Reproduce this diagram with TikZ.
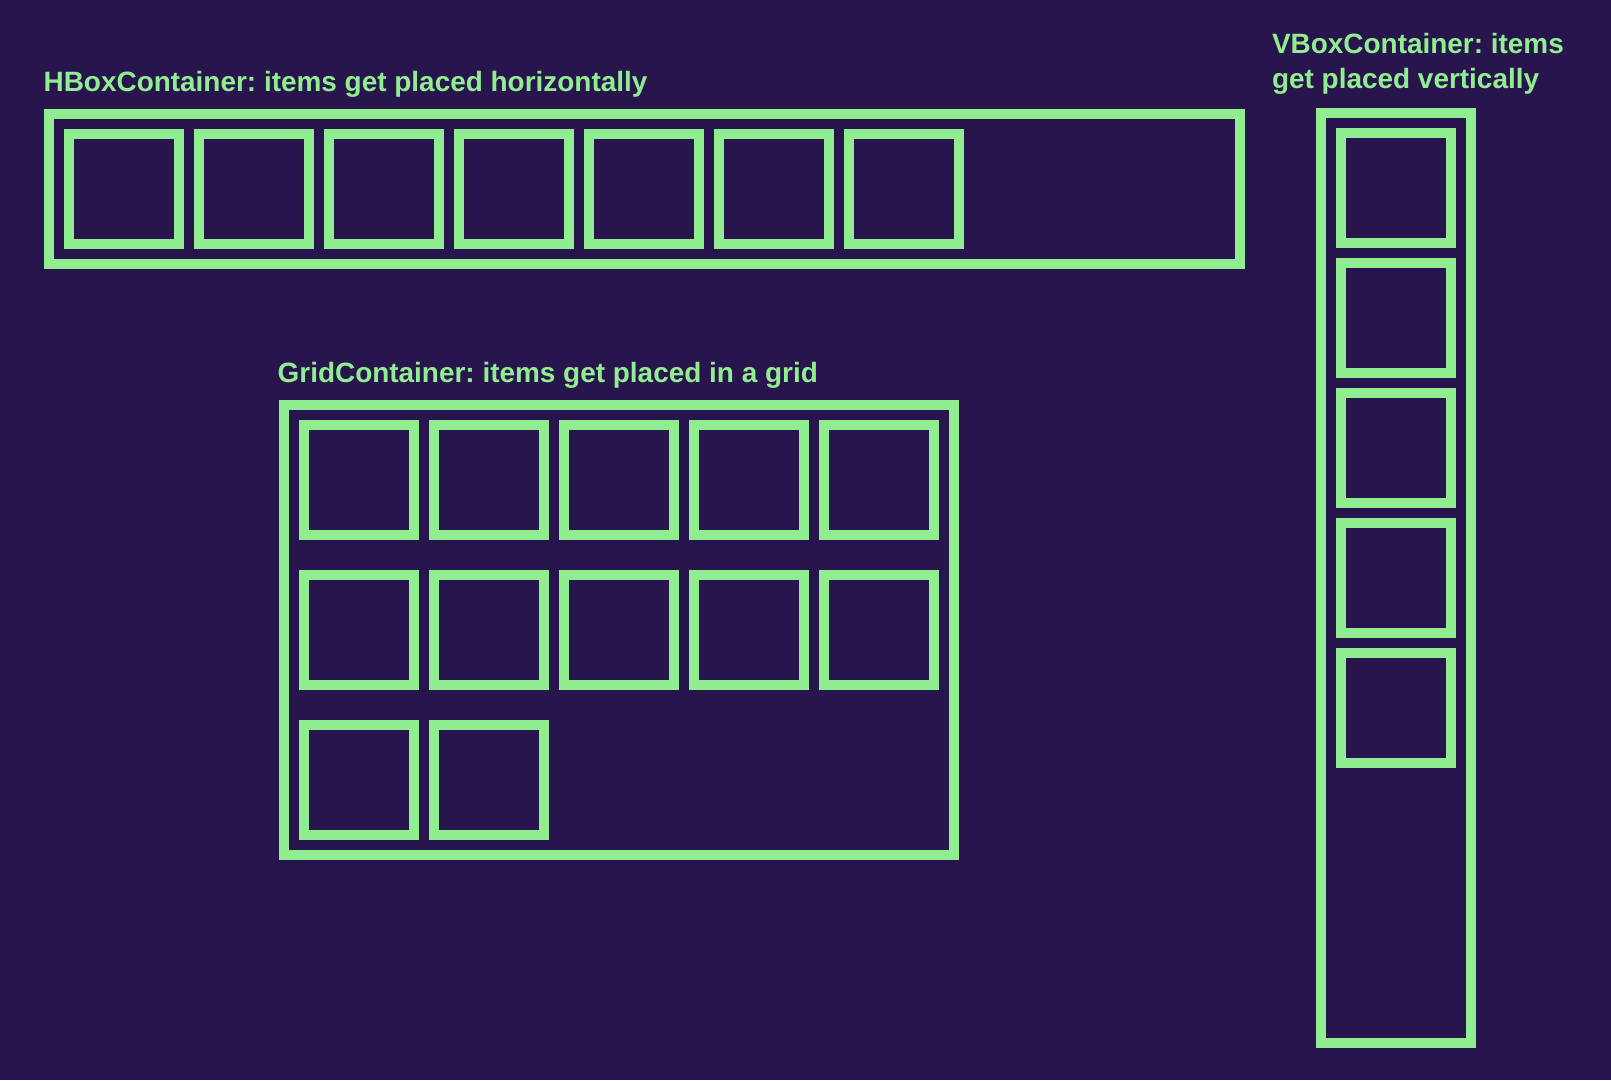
\documentclass[tikz,border=0pt]{standalone}
\usepackage{fontspec}
\setmainfont{Liberation Sans}
\usepackage{tikz}
\usetikzlibrary{positioning}
\definecolor{PanelBg}{RGB}{40,21,77}
\definecolor{ItemGreen}{RGB}{144,238,144}
\frenchspacing

\begin{document}
\begin{tikzpicture}[
    x=0.02cm,y=-0.02cm,
    item/.style={draw=ItemGreen, line width=0.2cm, minimum width=2.2cm, minimum height=2.2cm, inner sep=0pt, outer sep=0pt},
    container/.style={draw=ItemGreen, line width=0.2cm, inner sep=0pt, outer sep=0pt},
    title/.style={text=ItemGreen, font=\fontsize{15.9}{19.9}\selectfont\bfseries, anchor=base west, inner sep=0pt, align=left}
  ]
    \useasboundingbox (0,0) rectangle (1611,1080);
    \fill[PanelBg] (0,0) rectangle (1611,1080);
    % HBox
    \node[container, minimum width=23.81cm, minimum height=3cm] (hbox) at (644.5,189.3) {};
    \node[title] (hboxtitle) at (43.3,91.7) {HBoxContainer: items get placed horizontally};
    \foreach \i in {0,...,6} {\node[item] (h\i) at (124.3+130*\i,189.3) {};}
    % VBox
    \node[container, minimum width=3cm, minimum height=18.59cm] (vbox) at (1396,578) {};
    \node[title] (vboxtitle) at (1271.7,88.3) {VBoxContainer: items\\get placed vertically};
    \foreach \j in {0,...,4} {\node[item] (v\j) at (1396,188.3+130*\j) {};}
    % Grid
    \node[container, minimum width=13.39cm, minimum height=9cm] (grid) at (619,630) {};
    \node[title] (gridtitle) at (277.3,382.3) {GridContainer: items get placed in a grid};
    \foreach \i in {0,...,4} {\node[item] (g0\i) at (359.3+130*\i,480) {};}
    \foreach \i in {0,...,4} {\node[item] (g1\i) at (359.3+130*\i,630) {};}
    \foreach \i in {0,1} {\node[item] (g2\i) at (359.3+130*\i,780) {};}
  \end{tikzpicture}
\end{document}
